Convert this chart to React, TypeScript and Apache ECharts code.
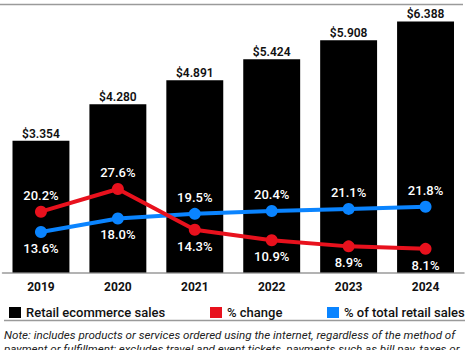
import React, { useEffect, useRef } from "react";
import * as echarts from "echarts";

const years = ["2019", "2020", "2021", "2022", "2023", "2024"];
const salesTrillions = [3.354, 4.28, 4.891, 5.424, 5.908, 6.388];
const pctChange = [20.2, 27.6, 14.3, 10.9, 8.9, 8.1];
const pctOfTotal = [13.6, 18.0, 19.5, 20.4, 21.1, 21.8];
const seriesNames = ["Retail ecommerce sales", "% change", "% of total retail sales"];
const noteLines = [
  "Note: includes products or services ordered using the internet, regardless of the method of",
  "payment or fulfillment; excludes travel and event tickets, payments such as bill pay, taxes or",
];

const redLabelPos = ["top", "top", "bottom", "bottom", "bottom", "bottom"];
const blueLabelPos = ["bottom", "bottom", "top", "top", "top", "top"];

const FONT = "Roboto, 'Liberation Sans', Arial, sans-serif";
const RED = "#e8111d";
const BLUE = "#0a84ff";

export default function App() {
  const ref = useRef<HTMLDivElement>(null);
  useEffect(() => {
    document.body.style.margin = "0";
    if (!ref.current) return;
    const chart = echarts.init(ref.current, null, { renderer: "svg" });
    const pctLabel = (pos: string[]) => (v: number, i: number) => ({
      value: v,
      label: { position: pos[i] },
    });
    chart.setOption({
      animation: false,
      textStyle: { fontFamily: FONT },
      grid: { left: 2.5, right: 6, top: 5, bottom: 77.5, containLabel: false },
      xAxis: {
        type: "category",
        data: years,
        axisLine: { show: true, lineStyle: { color: "#9a9a9a", width: 1.5 } },
        axisTick: { show: false },
        axisLabel: {
          color: "#111",
          fontSize: 12,
          fontWeight: "bold",
          fontFamily: FONT,
          margin: 8,
        },
      },
      yAxis: [
        { type: "value", min: 0, max: 6.807, show: false },
        { type: "value", min: 0.39, max: 87.52, show: false },
      ],
      legend: seriesNames.map((name, i) => ({
        data: [name],
        left: [4, 205, 322][i],
        top: 301,
        icon: "rect",
        itemWidth: 12,
        itemHeight: 11,
        textStyle: { fontSize: 13, fontWeight: 500, color: "#111", fontFamily: FONT },
        selectedMode: false,
      })),
      series: [
        {
          name: seriesNames[0],
          type: "bar",
          data: salesTrillions,
          barWidth: "74%",
          itemStyle: { color: "#000" },
          z: 1,
          label: {
            show: true,
            position: "top",
            distance: 1,
            color: "#111",
            fontSize: 12,
            fontWeight: 600,
            fontFamily: FONT,
            formatter: (p: any) => "$" + Number(p.value).toFixed(3),
          },
        },
        {
          name: seriesNames[2],
          type: "line",
          yAxisIndex: 1,
          data: pctOfTotal.map(pctLabel(blueLabelPos)),
          symbol: "circle",
          symbolSize: 12,
          lineStyle: { color: BLUE, width: 4 },
          itemStyle: { color: BLUE },
          z: 3,
          label: {
            show: true,
            color: "#fff",
            fontSize: 13,
            fontWeight: 500,
            fontFamily: FONT,
            distance: 4,
            formatter: (p: any) => Number(p.value).toFixed(1) + "%",
          },
        },
        {
          name: seriesNames[1],
          type: "line",
          yAxisIndex: 1,
          data: pctChange.map(pctLabel(redLabelPos)),
          symbol: "circle",
          symbolSize: 12,
          lineStyle: { color: RED, width: 4 },
          itemStyle: { color: RED },
          z: 4,
          label: {
            show: true,
            color: "#fff",
            fontSize: 13,
            fontWeight: 500,
            fontFamily: FONT,
            distance: 4,
            formatter: (p: any) => Number(p.value).toFixed(1) + "%",
          },
        },
      ],
      graphic: [
        {
          type: "line",
          shape: { x1: 0, y1: 4.5, x2: 463, y2: 4.5 },
          style: { stroke: "#9a9a9a", lineWidth: 1.5 },
        },
        {
          type: "line",
          shape: { x1: 4, y1: 320.5, x2: 465, y2: 320.5 },
          style: { stroke: "#9a9a9a", lineWidth: 1.5 },
        },
        ...noteLines.map((t, i) => ({
          type: "text",
          left: 4,
          top: 328.5 + i * 14.5,
          style: {
            text: t,
            fill: "#222",
            font: `italic 11.6px ${FONT}`,
          },
        })),
      ],
    });
    return () => chart.dispose();
  }, []);
  return <div ref={ref} style={{ width: 470, height: 350 }} />;
}
